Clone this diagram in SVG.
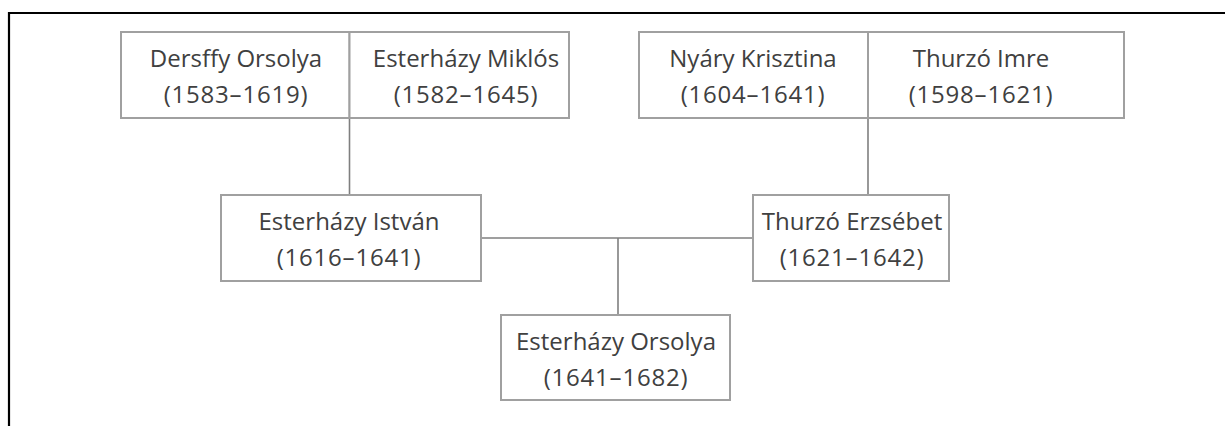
<svg xmlns="http://www.w3.org/2000/svg" width="1225" height="426" viewBox="0 0 1225 426">
<style>
.box{fill:#fff;stroke:#a0a0a0;stroke-width:2}
.ln{stroke:#7f7f7f;stroke-width:1.6;fill:none}
.t{font-family:"Open Sans","Liberation Sans",sans-serif;font-size:24px;fill:#404040;text-anchor:middle}
.d{letter-spacing:0.8px}
.frame{stroke:#000;stroke-width:2.2;fill:none}
</style>
<rect width="1225" height="426" fill="#fff"/>
<path class="frame" d="M9 426 V13 H1225"/>
<g id="connectors">
<line class="ln" x1="349.5" y1="118" x2="349.5" y2="195"/>
<line class="ln" x1="868" y1="118" x2="868" y2="195"/>
<line class="ln" x1="481" y1="238" x2="753" y2="238"/>
<line class="ln" x1="618" y1="238" x2="618" y2="315"/>
</g>
<g id="dersffy-orsolya">
<rect class="box" x="121" y="32" width="228.5" height="86"/>
<text class="t" x="236" y="67">Dersffy Orsolya</text>
<text class="t d" x="236" y="103">(1583–1619)</text>
</g>
<g id="esterhazy-miklos">
<rect class="box" x="349.5" y="32" width="219.5" height="86"/>
<text class="t" x="466" y="67">Esterházy Miklós</text>
<text class="t d" x="466" y="103">(1582–1645)</text>
</g>
<g id="nyary-krisztina">
<rect class="box" x="639" y="32" width="229" height="86"/>
<text class="t" x="753" y="67">Nyáry Krisztina</text>
<text class="t d" x="753" y="103">(1604–1641)</text>
</g>
<g id="thurzo-imre">
<rect class="box" x="868" y="32" width="256" height="86"/>
<text class="t" x="981" y="67">Thurzó Imre</text>
<text class="t d" x="981" y="103">(1598–1621)</text>
</g>
<g id="esterhazy-istvan">
<rect class="box" x="221" y="195" width="260" height="86"/>
<text class="t" x="349" y="230">Esterházy István</text>
<text class="t d" x="349" y="266">(1616–1641)</text>
</g>
<g id="thurzo-erzsebet">
<rect class="box" x="753" y="195" width="196" height="86"/>
<text class="t" x="852" y="230">Thurzó Erzsébet</text>
<text class="t d" x="852" y="266">(1621–1642)</text>
</g>
<g id="esterhazy-orsolya">
<rect class="box" x="501" y="315" width="229" height="85"/>
<text class="t" x="616" y="350">Esterházy Orsolya</text>
<text class="t d" x="616" y="386">(1641–1682)</text>
</g>
</svg>
